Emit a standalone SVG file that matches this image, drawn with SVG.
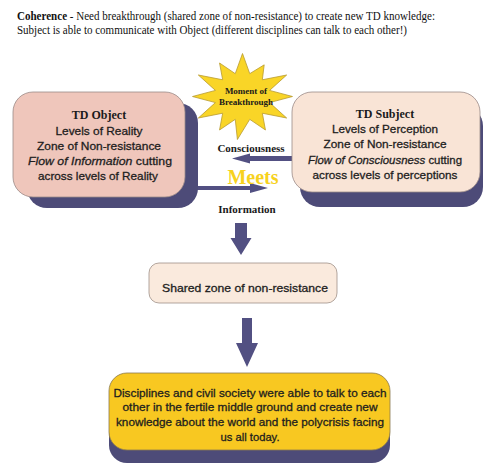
<svg xmlns="http://www.w3.org/2000/svg" width="500" height="475" viewBox="0 0 500 475">
<style>
.title{font-family:"Liberation Serif",serif;font-size:11.5px;fill:#111}
.serifb{font-family:"Liberation Serif",serif;font-weight:bold;fill:#1a1a1a}
.body{font-family:"Liberation Sans","DejaVu Sans",sans-serif;font-size:11.5px;fill:#1e1e1e;stroke:#1e1e1e;stroke-width:0.3px;text-anchor:middle}
.shadow{fill:#4d4b78}
.arrow{fill:#525082}
</style>
<rect width="500" height="475" fill="#ffffff"/>
<g id="title">
<text class="title" x="17" y="20" textLength="418" lengthAdjust="spacingAndGlyphs"><tspan font-weight="bold">Coherence</tspan> - Need breakthrough (shared zone of non-resistance) to create new TD knowledge:</text>
<text class="title" x="17" y="34" textLength="390" lengthAdjust="spacingAndGlyphs">Subject is able to communicate with Object (different disciplines can talk to each other!)</text>
</g>
<g id="connectors">
<polygon class="arrow" points="185,186 250,186 250,183 268,188 250,193 250,190 185,190"/>
<polygon class="arrow" points="295,156 250,156 250,153.5 232,158.5 250,163.5 250,161 295,161"/>
<polygon class="arrow" points="235,223 247,223 247,238 251.5,238 241,255 230.5,238 235,238"/>
<polygon class="arrow" points="242,318 252,318 252,343 258,343 247,367 236,343 242,343"/>
</g>
<g id="star">
<polygon transform="translate(242.5,96.5) scale(51,43)" fill="#f9d527" stroke="#b89a30" stroke-width="0.8" vector-effect="non-scaling-stroke" points="0,-1 0.142,-0.531 0.425,-0.736 0.389,-0.389 0.866,-0.5 0.531,-0.142 0.98,0 0.531,0.142 0.866,0.5 0.389,0.389 0.45,0.779 0.142,0.531 -0.1,1 -0.142,0.531 -0.45,0.779 -0.389,0.389 -0.866,0.5 -0.531,0.142 -0.98,0 -0.531,-0.142 -0.866,-0.5 -0.389,-0.389 -0.45,-0.779 -0.142,-0.531"/>
<text class="serifb" x="246" y="94" font-size="9" text-anchor="middle">Moment of</text>
<text class="serifb" x="246" y="105" font-size="9" text-anchor="middle">Breakthrough</text>
</g>
<g id="labels">
<text class="serifb" x="251" y="152" font-size="11" text-anchor="middle">Consciousness</text>
<text class="serifb" x="253" y="184" font-size="20" text-anchor="middle" style="fill:#f7d21e">Meets</text>
<text class="serifb" x="247" y="213" font-size="11" text-anchor="middle">Information</text>
</g>
<g id="td-object">
<rect class="shadow" x="27" y="103" width="171" height="105" rx="20"/>
<rect x="13" y="92" width="172" height="105" rx="20" fill="#efc6bb" stroke="#9a8a88" stroke-width="0.8"/>
<text class="serifb" x="99" y="119" font-size="12" text-anchor="middle">TD Object</text>
<text class="body" x="99" y="135" textLength="87" lengthAdjust="spacingAndGlyphs">Levels of Reality</text>
<text class="body" x="99" y="150" textLength="124" lengthAdjust="spacingAndGlyphs">Zone of Non-resistance</text>
<text class="body" x="100" y="165" textLength="144" lengthAdjust="spacingAndGlyphs"><tspan font-style="italic">Flow of Information</tspan> cutting</text>
<text class="body" x="98" y="180" textLength="120" lengthAdjust="spacingAndGlyphs">across levels of Reality</text>
</g>
<g id="td-subject">
<rect class="shadow" x="300" y="106" width="183" height="101" rx="20"/>
<rect x="292" y="92" width="188" height="100" rx="20" fill="#f9e4d6" stroke="#9a8a88" stroke-width="0.8"/>
<text class="serifb" x="385" y="118" font-size="12" text-anchor="middle">TD Subject</text>
<text class="body" x="385" y="133" textLength="106" lengthAdjust="spacingAndGlyphs">Levels of Perception</text>
<text class="body" x="385" y="148" textLength="123" lengthAdjust="spacingAndGlyphs">Zone of Non-resistance</text>
<text class="body" x="385" y="164" textLength="154" lengthAdjust="spacingAndGlyphs"><tspan font-style="italic">Flow of Consciousness</tspan> cutting</text>
<text class="body" x="385" y="179" textLength="145" lengthAdjust="spacingAndGlyphs">across levels of perceptions</text>
</g>
<g id="shared-zone">
<rect x="149" y="263" width="188" height="40" rx="10" fill="#faeadd" stroke="#a09088" stroke-width="0.8"/>
<text class="body" x="245" y="292" font-size="12" textLength="166" lengthAdjust="spacingAndGlyphs">Shared zone of non-resistance</text>
</g>
<g id="outcome">
<rect class="shadow" x="109" y="386" width="281" height="77" rx="18"/>
<rect x="109" y="373" width="281" height="77" rx="18" fill="#f8c821" stroke="#8a7a50" stroke-width="0.8"/>
<text class="body" x="250" y="397" textLength="273" lengthAdjust="spacingAndGlyphs">Disciplines and civil society were able to talk to each</text>
<text class="body" x="250" y="411" textLength="255" lengthAdjust="spacingAndGlyphs">other in the fertile middle ground and create new</text>
<text class="body" x="250" y="426" textLength="268" lengthAdjust="spacingAndGlyphs">knowledge about the world and the polycrisis facing</text>
<text class="body" x="250" y="441" textLength="59" lengthAdjust="spacingAndGlyphs">us all today.</text>
</g>
</svg>
